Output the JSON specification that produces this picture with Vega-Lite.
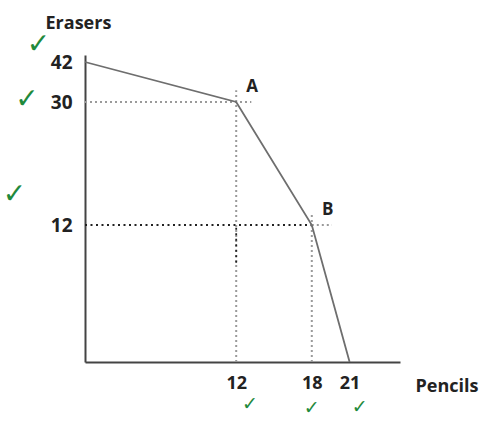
{
  "$schema": "https://vega.github.io/schema/vega-lite/v6.json",
  "autosize": "none",
  "width": 315,
  "height": 307,
  "padding": {"left": 85, "top": 55, "right": 91, "bottom": 61},
  "background": "white",
  "config": {"view": {"stroke": null}, "font": "Open Sans"},
  "layer": [
    {
      "data": {"values": [
        {"x": 0, "x2": 13.2, "y": 30, "y2": 30},
        {"x": 12, "x2": 12, "y": 0, "y2": 33.5},
        {"x": 18, "x2": 18, "y": 0, "y2": 13.8},
        {"x": 18, "x2": 19.6, "y": 12, "y2": 12}
      ]},
      "mark": {"type": "rule", "color": "#9a9a9a", "strokeWidth": 2, "strokeDash": [2, 3]},
      "encoding": {
        "x": {"field": "x", "type": "quantitative", "scale": {"domain": [0, 25], "nice": false},
          "axis": {"values": [12, 18, 21], "ticks": false, "grid": false, "domainColor": "#444", "domainWidth": 2,
            "labelFont": "Open Sans", "labelFontWeight": "bold", "labelFontSize": 18, "labelColor": "#222", "labelPadding": 12,
            "title": "Pencils", "titleFont": "Open Sans", "titleFontWeight": "bold", "titleFontSize": 18, "titleColor": "#222",
            "titleAlign": "left", "titleBaseline": "alphabetic", "titleX": 330, "titleY": 29}},
        "x2": {"field": "x2"},
        "y": {"field": "y", "type": "quantitative", "scale": {"domain": [0, 12, 30, 42, 44], "range": [307, 170, 47, 7, 0], "nice": false, "zero": false},
          "axis": {"values": [12, 30, 42], "ticks": false, "grid": false, "domainColor": "#444", "domainWidth": 2,
            "labelFont": "Open Sans", "labelFontWeight": "bold", "labelFontSize": 19, "labelColor": "#222", "labelPadding": 13,
            "title": "Erasers", "titleFont": "Open Sans", "titleFontWeight": "bold", "titleFontSize": 18, "titleColor": "#222",
            "titleAngle": 0, "titleAlign": "left", "titleBaseline": "alphabetic", "titleX": -40, "titleY": -27}},
        "y2": {"field": "y2"}
      }
    },
    {
      "data": {"values": [
        {"x": 0, "x2": 18, "y": 12, "y2": 12},
        {"x": 12, "x2": 12, "y": 8.7, "y2": 12}
      ]},
      "mark": {"type": "rule", "color": "#222", "strokeWidth": 1.8, "strokeDash": [2, 3.5]},
      "encoding": {
        "x": {"field": "x", "type": "quantitative"},
        "x2": {"field": "x2"},
        "y": {"field": "y", "type": "quantitative"},
        "y2": {"field": "y2"}
      }
    },
    {
      "data": {"values": [
        {"pencils": 0, "erasers": 42},
        {"pencils": 12, "erasers": 30},
        {"pencils": 18, "erasers": 12},
        {"pencils": 21, "erasers": 0}
      ]},
      "mark": {"type": "line", "color": "#6e6e6e", "strokeWidth": 1.8},
      "encoding": {
        "x": {"field": "pencils", "type": "quantitative"},
        "y": {"field": "erasers", "type": "quantitative"}
      }
    },
    {
      "data": {"values": [
        {"pencils": 12, "erasers": 30, "label": "A"},
        {"pencils": 18, "erasers": 12, "label": "B"}
      ]},
      "mark": {"type": "text", "font": "Open Sans", "fontWeight": "bold", "fontSize": 17, "color": "#222", "dx": 16, "dy": -15},
      "encoding": {
        "x": {"field": "pencils", "type": "quantitative"},
        "y": {"field": "erasers", "type": "quantitative"},
        "text": {"field": "label"}
      }
    },
    {
      "data": {"values": [
        {"x": -3.7, "y": 46.9},
        {"x": -4.6, "y": 30.6},
        {"x": -5.6, "y": 16.4}
      ]},
      "mark": {"type": "text", "text": "✓", "font": "DejaVu Sans", "fontSize": 28, "color": "#1f8a3c", "baseline": "middle"},
      "encoding": {
        "x": {"field": "x", "type": "quantitative"},
        "y": {"field": "y", "type": "quantitative"}
      }
    },
    {
      "data": {"values": [
        {"x": 13.1, "y": -3.7},
        {"x": 18.0, "y": -4.0},
        {"x": 21.8, "y": -3.9}
      ]},
      "mark": {"type": "text", "text": "✓", "font": "DejaVu Sans", "fontSize": 19, "color": "#1f8a3c", "baseline": "middle"},
      "encoding": {
        "x": {"field": "x", "type": "quantitative"},
        "y": {"field": "y", "type": "quantitative"}
      }
    }
  ]
}
